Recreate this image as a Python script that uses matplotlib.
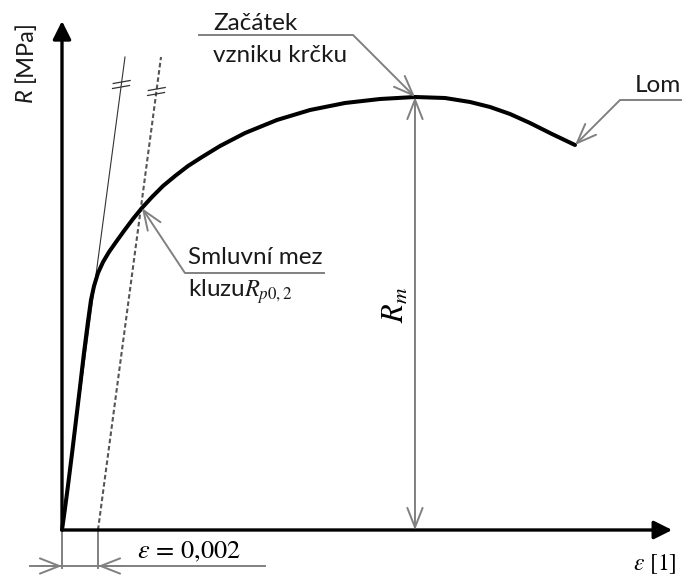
import matplotlib
matplotlib.use("Agg")
import matplotlib.pyplot as plt

plt.rcParams["font.family"] = ["Lato", "DejaVu Sans"]
plt.rcParams["mathtext.fontset"] = "stix"

# Engineering stress-strain curve (strain [1], stress [MPa])
strain = [0, 0.00017, 0.00033, 0.00056, 0.00078, 0.00100, 0.00122, 0.00144,
          0.00161, 0.00178, 0.00200, 0.00228, 0.00261, 0.00300, 0.00344,
          0.00394, 0.00444, 0.00500, 0.00561, 0.00628, 0.00700, 0.00778,
          0.00878, 0.01017, 0.01194, 0.01378, 0.01572, 0.01767, 0.01961,
          0.02128, 0.02267, 0.02378, 0.02489, 0.02600, 0.02722, 0.02850]
stress = [0, 22, 44, 77, 110, 143, 177, 208, 230, 244, 257, 268, 278, 288,
          299, 311, 322, 333, 344, 354, 364, 373, 384, 397, 410, 420, 427,
          431, 433, 432, 428, 423, 416, 407, 396, 385]

# Elastic line and its 0.2 % offset parallel
elastic_strain = [0, 0.0035]
elastic_stress = [0, 473]
offset_strain = 0.002

# Offset yield point R_p0,2
rp02_strain = 0.00444
rp02_stress = 322

GRAY = "#808080"
TEXT = "#1a1a1a"

fig = plt.figure(figsize=(6.82, 5.75), dpi=100)
ax = fig.add_axes([0, 0, 1, 1])
ax.set_xlim(-0.0034444, 0.0344444)
ax.set_ylim(-45, 530)
ax.axis("off")

# axes with filled arrow heads
axis_arrow = dict(arrowstyle="-|>,head_length=1.1,head_width=0.55",
                  color="black", lw=2.4, shrinkA=0, shrinkB=0)
ax.annotate("", xy=(0, 509), xytext=(0, 0), arrowprops=axis_arrow)
ax.annotate("", xy=(0.0339, 0), xytext=(0, 0), arrowprops=axis_arrow)

# elastic line and offset line
ax.plot(elastic_strain, elastic_stress, color="#333333", lw=0.8)
ax.plot([s + offset_strain for s in elastic_strain], elastic_stress,
        color="#555555", lw=1.5, dashes=(2.2, 1.3))


def hash_marks(x0, slope_x, levels):
    for r in levels:
        x = x0 + slope_x * r
        ax.plot([x - 0.00047, x + 0.00047], [r - 1.5, r + 1.5],
                color="#333333", lw=0.9)


slope = elastic_strain[1] / elastic_stress[1]
hash_marks(0, slope, [448, 443])
hash_marks(offset_strain, slope, [441, 436])

# stress-strain curve
ax.plot(strain, stress, color="black", lw=2.9, solid_joinstyle="round",
        solid_capstyle="round")

open_head = "->,head_length=1.4,head_width=0.55"


def leader(points, tip):
    xs = [p[0] for p in points]
    ys = [p[1] for p in points]
    ax.plot(xs, ys, color=GRAY, lw=1.4, solid_capstyle="butt")
    ax.annotate("", xy=tip, xytext=points[-1],
                arrowprops=dict(arrowstyle=open_head, color=GRAY, lw=1.4,
                                shrinkA=0, shrinkB=0))


# ultimate strength R_m
i_max = stress.index(max(stress))
rm_strain, rm_stress = strain[i_max], stress[i_max]
ax.annotate("", xy=(rm_strain, rm_stress), xytext=(rm_strain, 0),
            arrowprops=dict(arrowstyle="<->,head_length=1.4,head_width=0.55",
                            color=GRAY, lw=1.4, shrinkA=0, shrinkB=0))
ax.text(rm_strain - 0.00111, 225, r"$R_m$", rotation=90, fontsize=22,
        ha="center", va="center")

# necking onset
leader([(0.00756, 495), (0.01617, 495)], (rm_strain, rm_stress))
ax.text(0.00839, 500, "Začátek", fontsize=17.5, ha="left", va="baseline",
        color=TEXT)
ax.text(0.00839, 468, "vzniku krčku", fontsize=17.5, ha="left",
        va="baseline", color=TEXT)

# fracture
leader([(0.0345, 430), (0.0310, 430)], (strain[-1], stress[-1]))
ax.text(0.03183, 438, "Lom", fontsize=17.5, ha="left", va="baseline",
        color=TEXT)

# offset yield strength
leader([(0.01461, 257), (0.00683, 257)], (rp02_strain, rp02_stress))
ax.text(0.0070, 266, "Smluvní mez", fontsize=17.5, ha="left",
        va="baseline", color=TEXT)
ax.text(0.0070, 233, r"kluzu$R_{p0,2}$", fontsize=17.5, ha="left",
        va="baseline", color=TEXT)

# 0.002 offset dimension
dim_y = -36
ax.plot([0, 0], [0, dim_y - 2], color=GRAY, lw=1.4)
ax.plot([offset_strain, offset_strain], [0, dim_y - 2], color=GRAY, lw=1.4)
ax.plot([-0.00178, 0.01128], [dim_y, dim_y], color=GRAY, lw=1.4)
ax.annotate("", xy=(0, dim_y), xytext=(-0.0013, dim_y),
            arrowprops=dict(arrowstyle=open_head, color=GRAY, lw=1.4,
                            shrinkA=0, shrinkB=0))
ax.annotate("", xy=(offset_strain, dim_y),
            xytext=(offset_strain + 0.0013, dim_y),
            arrowprops=dict(arrowstyle=open_head, color=GRAY, lw=1.4,
                            shrinkA=0, shrinkB=0))
ax.text(0.00706, -28, r"$\varepsilon\,=\,0{,}002$", fontsize=19,
        ha="center", va="baseline")

# axis labels
ax.text(0.03294, -40, r"$\varepsilon\ [1]$", fontsize=17, ha="center",
        va="baseline")
ax.text(-0.00206, 428, "R", fontsize=17, style="italic", rotation=90,
        ha="center", va="bottom", color=TEXT)
ax.text(-0.00206, 448, "[MPa]", fontsize=17, rotation=90,
        ha="center", va="bottom", color=TEXT)

fig.savefig("out.png", dpi=100)
